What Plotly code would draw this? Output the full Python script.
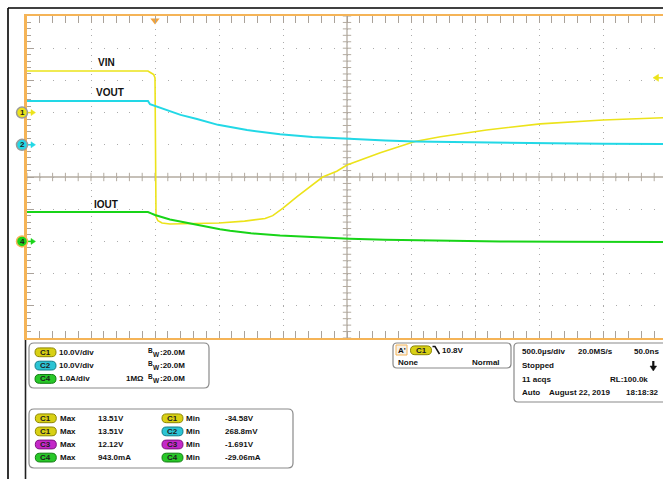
import numpy as np
import plotly.graph_objects as go

# ---------------- data (time in ms, values in channel units) ----------------
t_vin = [-1.0, -0.055, -0.03, -0.01, 0.0, 0.004, 0.008, 0.023, 0.055, 0.117, 0.3, 0.5,
         0.7, 0.86, 0.92, 0.97, 1.0, 1.11, 1.21, 1.31, 1.42, 1.5, 1.76, 2.03, 2.23,
         2.59, 3.01, 3.5, 3.97]
v_vin = [12.9, 12.9, 12.3, 11.8, 10.8, -20.0, -32.4, -33.6, -34.3, -34.6, -34.5, -34.3,
         -33.7, -32.9, -32.0, -30.6, -29.7, -26.1, -23.0, -20.0, -18.2, -16.3, -12.5, -9.0,
         -7.5, -5.4, -3.5, -2.3, -1.6]

t_vout = [-1.0, -0.055, -0.039, 0.0, 0.06, 0.117, 0.2, 0.328, 0.492, 0.719, 0.977, 1.23,
          1.52, 1.8, 2.03, 2.3, 2.82, 3.1, 3.5, 3.97]
v_vout = [13.6, 13.6, 12.6, 12.05, 11.1, 10.3, 9.3, 8.0, 6.2, 4.6, 3.25, 2.4,
          1.8, 1.35, 1.05, 0.85, 0.55, 0.45, 0.35, 0.28]

t_iout = [-1.0, -0.055, -0.03, 0.0, 0.117, 0.328, 0.508, 0.586, 0.75, 0.977, 1.2, 1.52,
          1.8, 2.17, 2.7, 3.2, 3.97]
i_iout = [0.91, 0.91, 0.87, 0.82, 0.68, 0.51, 0.38, 0.33, 0.25, 0.18, 0.13, 0.08,
          0.05, 0.02, 0.0, -0.01, -0.02]

trace_labels = ["VIN", "VOUT", "IOUT"]
trigger_level = 10.8

ch_names = ["C1", "C2", "C4"]
ch_scales = ["10.0V/div", "10.0V/div", "1.0A/div"]
ch_bw = ["20.0M", "20.0M", "20.0M"]
ch_imp = ["", "", "1MΩ"]

meas_left_ch = ["C1", "C1", "C3", "C4"]
meas_left_val = ["13.51V", "13.51V", "12.12V", "943.0mA"]
meas_right_ch = ["C1", "C2", "C3", "C4"]
meas_right_val = ["-34.58V", "268.8mV", "-1.691V", "-29.06mA"]

acq_info = ["500.0µs/div", "20.0MS/s", "50.0ns", "Stopped", "11 acqs", "RL:100.0k",
            "Auto", "August 22, 2019", "18:18:32"]

# ---------------- style ----------------
W, H = 663, 479
PL, PR, PT, PB = 27, 663, 16, 338   # plot area in pixels
YEL, CYA, GRN = "#ece31a", "#22d8e6", "#18d418"
ORANGE = "#f5b457"
FONT = "Liberation Sans"
pill_col = {"C1": ("#d8d014", "#8c8600"), "C2": ("#2cc4d4", "#107c88"),
            "C3": ("#c428c8", "#7c107e"), "C4": ("#28c828", "#107c10")}
R1, R2, R3 = [-70, 30], [-60, 40], [-3, 7]   # C1, C2, C4 axis ranges (10 div)


def X(p):
    return (p - PL) / (PR - PL)


def Y(p):
    return (PB - p) / (PB - PT)


def pix_y(v, rng):
    return PB - (v - rng[0]) / (rng[1] - rng[0]) * (PB - PT)


def rrect(x0, y0, x1, y1, r):
    pts = [("M", x0 + r, y0), ("L", x1 - r, y0), ("Q", x1, y0, x1, y0 + r),
           ("L", x1, y1 - r), ("Q", x1, y1, x1 - r, y1), ("L", x0 + r, y1),
           ("Q", x0, y1, x0, y1 - r), ("L", x0, y0 + r), ("Q", x0, y0, x0 + r, y0)]
    s = ""
    for p in pts:
        coords = p[1:]
        xy = [f"{X(coords[i]):.5f},{Y(coords[i + 1]):.5f}" for i in range(0, len(coords), 2)]
        s += p[0] + " " + " ".join(xy) + " "
    return s + "Z"


def poly(points):
    return "M " + " L ".join(f"{X(a):.5f},{Y(b):.5f}" for a, b in points) + " Z"


fig = go.Figure()

# crosshair ticks (decoration)
xt = np.arange(-1.0, 3.97, 0.1)
fig.add_trace(go.Scatter(x=xt, y=[-20] * len(xt), mode="markers",
                         marker=dict(symbol="line-ns", size=6, line=dict(width=1, color="#b3aba0")),
                         hoverinfo="skip"))
yt = np.arange(-70, 30.1, 2)
fig.add_trace(go.Scatter(x=[1.5] * len(yt), y=yt, mode="markers",
                         marker=dict(symbol="line-ew", size=6, line=dict(width=1, color="#b3aba0")),
                         hoverinfo="skip"))

# waveforms
fig.add_trace(go.Scatter(x=t_iout, y=i_iout, yaxis="y3", mode="lines",
                         line=dict(color=GRN, width=2)))
fig.add_trace(go.Scatter(x=t_vout, y=v_vout, yaxis="y2", mode="lines",
                         line=dict(color=CYA, width=2)))
fig.add_trace(go.Scatter(x=t_vin, y=v_vin, mode="lines",
                         line=dict(color=YEL, width=1.6)))

# trigger position marker (top)
fig.add_trace(go.Scatter(x=[0], y=[28.6], mode="markers",
                         marker=dict(symbol="triangle-down", size=8, color="#f2a33a"),
                         cliponaxis=False, hoverinfo="skip"))

shapes = []
ann = []

# crosshair lines
shapes.append(dict(type="line", xref="paper", yref="paper", x0=0, x1=1, y0=0.5, y1=0.5,
                   line=dict(color="#b3aba0", width=1.3), layer="below"))
shapes.append(dict(type="line", xref="x", yref="paper", x0=1.5, x1=1.5, y0=0, y1=1,
                   line=dict(color="#b3aba0", width=1.3), layer="below"))

# channel ground markers
for lab, col, rng, oc in [("1", YEL, R1, "#9a9a9a"), ("2", CYA, R2, "#9a9a9a"), ("4", GRN, R3, ORANGE)]:
    cy = pix_y(0, rng)
    shapes.append(dict(type="line", xref="paper", yref="paper", x0=X(27), x1=X(32), y0=Y(cy), y1=Y(cy),
                       line=dict(color=col, width=1.5)))
    shapes.append(dict(type="path", xref="paper", yref="paper",
                       path=poly([(31, cy - 3), (35.5, cy), (31, cy + 3)]),
                       fillcolor=col, line=dict(color=col, width=0.5)))
    shapes.append(dict(type="circle", xref="paper", yref="paper",
                       x0=X(16.5), x1=X(27.5), y0=Y(cy + 5.5), y1=Y(cy - 5.5),
                       fillcolor=col, line=dict(color=oc, width=1.5)))
    ann.append(dict(x=X(22), y=Y(cy), xref="paper", yref="paper", text=lab, showarrow=False,
                    xanchor="center", yanchor="middle", borderpad=0,
                    font=dict(family=FONT, size=8, color="#202020", weight="bold")))

# trigger level marker (right)
ty = pix_y(trigger_level, R1)
shapes.append(dict(type="path", xref="paper", yref="paper",
                   path=poly([(653, ty), (658.5, ty - 3.5), (658.5, ty + 3.5)]),
                   fillcolor=YEL, line=dict(color=YEL, width=0.5)))
shapes.append(dict(type="line", xref="paper", yref="paper", x0=X(658), x1=X(663), y0=Y(ty), y1=Y(ty),
                   line=dict(color=YEL, width=1.5)))

# frame lines
shapes.append(dict(type="line", xref="paper", yref="paper", x0=X(8), x1=X(663), y0=Y(8), y1=Y(8),
                   line=dict(color="#000000", width=1.6)))
shapes.append(dict(type="line", xref="paper", yref="paper", x0=X(8), x1=X(8), y0=Y(8), y1=Y(479),
                   line=dict(color="#000000", width=1.6)))
shapes.append(dict(type="line", xref="paper", yref="paper", x0=X(25.5), x1=X(25.5), y0=Y(340), y1=Y(479),
                   line=dict(color="#202020", width=1.6)))

# trace labels
for txt, (cx, cy) in zip(trace_labels, [(106, 62), (110, 93), (106, 204)]):
    ann.append(dict(x=X(cx), y=Y(cy), xref="paper", yref="paper", text=txt, showarrow=False,
                    xanchor="center", yanchor="middle",
                    font=dict(family=FONT, size=10, color="#111111", weight="bold")))


def pill(cx, cy, ch):
    fill, line = pill_col[ch]
    shapes.append(dict(type="path", xref="paper", yref="paper",
                       path=rrect(cx - 10.5, cy - 4.4, cx + 10.5, cy + 4.4, 4.4),
                       fillcolor=fill, line=dict(color=line, width=1)))
    ann.append(dict(x=X(cx), y=Y(cy), xref="paper", yref="paper", text=ch, showarrow=False,
                    xanchor="center", yanchor="middle", borderpad=0,
                    font=dict(family=FONT, size=8, color="#202020", weight="bold")))


def text(x, y, s, anchor="left", size=8):
    ann.append(dict(x=X(x), y=Y(y), xref="paper", yref="paper", text=s, showarrow=False,
                    xanchor=anchor, yanchor="middle", borderpad=0,
                    font=dict(family=FONT, size=size, color="#111111", weight="bold")))


PANEL_LINE = dict(color="#8a8a8a", width=1.2)

# panel 1: channel settings
shapes.append(dict(type="path", xref="paper", yref="paper", path=rrect(29, 343, 209, 388, 5),
                   fillcolor="white", line=PANEL_LINE))
for i, (c, s, bw, imp) in enumerate(zip(ch_names, ch_scales, ch_bw, ch_imp)):
    yy = 352.3 + i * 13.3
    pill(45.5, yy, c)
    text(58, yy, s)
    text(146.5, yy - 2.2, "B", size=6.5)
    text(152.2, yy + 1.8, "W", size=6.5)
    text(158.5, yy, ":" + bw)
    if imp:
        text(144.5, yy, imp, anchor="right")

# panel 2: trigger
shapes.append(dict(type="path", xref="paper", yref="paper", path=rrect(393, 343, 511, 368, 4),
                   fillcolor="white", line=PANEL_LINE))
shapes.append(dict(type="rect", xref="paper", yref="paper", x0=X(396), x1=X(407), y0=Y(345), y1=Y(355),
                   fillcolor="#f4f0ea", line=dict(color=ORANGE, width=1)))
text(397.5, 350.3, "A'", size=8)
pill(421, 350.3, "C1")
shapes.append(dict(type="path", xref="paper", yref="paper",
                   path=f"M {X(432.5):.5f},{Y(346.5):.5f} L {X(435):.5f},{Y(346.5):.5f} L {X(439.5):.5f},{Y(354):.5f}",
                   line=dict(color="#111111", width=1.5)))
text(440.5, 350.3, f"{trigger_level}V")
text(397, 362.5, "None")
text(501, 362.5, "Normal", anchor="right")

# panel 3: acquisition
shapes.append(dict(type="path", xref="paper", yref="paper", path=rrect(514, 343, 680, 402, 4),
                   fillcolor="white", line=PANEL_LINE))
text(521, 351.3, acq_info[0])
text(577, 351.3, acq_info[1])
text(659.5, 351.3, acq_info[2], anchor="right")
text(521, 365.7, acq_info[3])
text(521, 379, acq_info[4])
text(649, 379, acq_info[5], anchor="right")
text(521, 392.5, acq_info[6])
text(547.5, 392.5, acq_info[7])
text(659.5, 392.5, acq_info[8], anchor="right")
# stopped arrow
shapes.append(dict(type="line", xref="paper", yref="paper", x0=X(653.3), x1=X(653.3), y0=Y(361), y1=Y(367),
                   line=dict(color="#111111", width=2.2)))
shapes.append(dict(type="path", xref="paper", yref="paper",
                   path=poly([(650, 366), (656.6, 366), (653.3, 371)]),
                   fillcolor="#111111", line=dict(color="#111111", width=0.5)))

# panel 4: measurements
shapes.append(dict(type="path", xref="paper", yref="paper", path=rrect(29, 409, 293, 468, 5),
                   fillcolor="white", line=PANEL_LINE))
for i in range(4):
    yy = 418.3 + i * 13.1
    pill(45.8, yy, meas_left_ch[i])
    text(58.5, yy, "Max")
    text(96.5, yy, meas_left_val[i])
    pill(172.5, yy, meas_right_ch[i])
    text(185, yy, "Min")
    text(223.5, yy, meas_right_val[i])

TICKC = "#aaa29a"
GRIDC = "#ababab"
fig.update_layout(
    width=W, height=H, autosize=False,
    margin=dict(l=PL, r=W - PR, t=PT, b=H - PB, pad=0),
    paper_bgcolor="white", plot_bgcolor="white",
    showlegend=False,
    shapes=shapes, annotations=ann,
    xaxis=dict(range=[-1.0, -1.0 + (PR - PL) / 128.0], tick0=0, dtick=0.5,
               showticklabels=False, zeroline=False,
               showgrid=True, gridcolor=GRIDC, gridwidth=1, griddash="1px,5.44px",
               ticks="inside", ticklen=7, tickcolor=TICKC, tickwidth=1,
               minor=dict(dtick=0.1, tick0=0, ticks="inside", ticklen=4, tickcolor=TICKC, showgrid=False),
               showline=True, linecolor=ORANGE, linewidth=2.2, mirror="allticks",
               fixedrange=True),
    yaxis=dict(range=R1, tick0=0, dtick=10,
               showticklabels=False, zeroline=False,
               showgrid=True, gridcolor=GRIDC, gridwidth=1, griddash="1px,11.8px",
               ticks="inside", ticklen=7, tickcolor=TICKC, tickwidth=1,
               minor=dict(dtick=2, tick0=0, ticks="inside", ticklen=4, tickcolor=TICKC, showgrid=False),
               showline=True, linecolor=ORANGE, linewidth=3, mirror=False,
               fixedrange=True),
    yaxis2=dict(range=R2, overlaying="y", visible=False, fixedrange=True),
    yaxis3=dict(range=R3, overlaying="y", visible=False, fixedrange=True),
)

fig.write_html("out.html", config={"displayModeBar": False},
               post_script="document.body.style.margin='0';document.body.style.overflow='hidden';")
